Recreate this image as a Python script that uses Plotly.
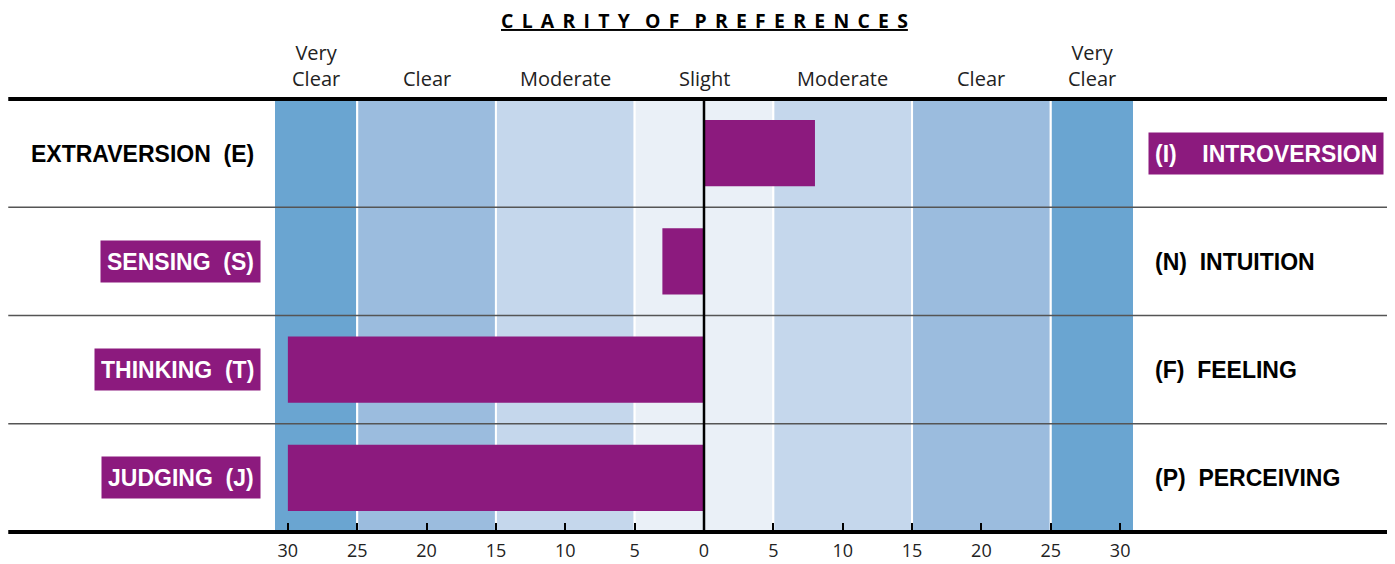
import plotly.graph_objects as go

# scale rows, top to bottom
left_labels = ["EXTRAVERSION  (E)", "SENSING  (S)", "THINKING  (T)", "JUDGING  (J)"]
right_labels = ["(I)    INTROVERSION", "(N)  INTUITION", "(F)  FEELING", "(P)  PERCEIVING"]
scores = [8, -3, -30, -30]   # negative = left pole, positive = right pole

# clarity bands
band_edges = [-31, -25, -15, -5, 5, 15, 25, 31]
band_colors = ["#6aa5d1", "#9bbcde", "#c5d7ec", "#eaf0f7", "#c5d7ec", "#9bbcde", "#6aa5d1"]
band_names = ["Very<br>Clear", "Clear", "Moderate", "Slight", "Moderate", "Clear", "Very<br>Clear"]
band_centers = [-28, -20, -10, 0, 10, 20, 28]

tick_vals = [-30, -25, -20, -15, -10, -5, 0, 5, 10, 15, 20, 25, 30]
tick_text = [str(abs(v)) for v in tick_vals]

PURPLE = "#8c1a7e"
NB = "\u00a0"
rows = list(range(len(scores)))


def spaced(s):
    # letter-spaced title text
    words = [(NB + "\u2006").join(w) for w in s.split(" ")]
    return (NB * 3).join(words)


fig = go.Figure()
fig.add_trace(go.Bar(
    x=scores, y=rows, orientation="h", base=0, width=0.61,
    marker=dict(color=PURPLE, line=dict(width=0)),
    hoverinfo="skip", showlegend=False,
))

# background bands
for i, col in enumerate(band_colors):
    fig.add_shape(type="rect", xref="x", yref="paper",
                  x0=band_edges[i], x1=band_edges[i + 1], y0=0, y1=1,
                  fillcolor=col, line=dict(color="white", width=2), layer="below")
    fig.add_annotation(x=band_centers[i], y=1, xref="x", yref="paper",
                       text=band_names[i], showarrow=False, yanchor="bottom",
                       yshift=5, font=dict(family="Open Sans", size=20, color="#222"))

# row separators
for r in rows[1:]:
    fig.add_shape(type="line", xref="paper", yref="y", x0=-0.309, x1=1.298,
                  y0=r - 0.5, y1=r - 0.5, line=dict(color="#555", width=1.5))

# thick top/bottom rules
for yy in [0, 1]:
    fig.add_shape(type="line", xref="paper", yref="paper", x0=-0.309, x1=1.298,
                  y0=yy, y1=yy, line=dict(color="black", width=4))

# center line
fig.add_shape(type="line", xref="x", yref="paper", x0=0, x1=0, y0=0, y1=1,
              line=dict(color="black", width=2.5))

# pole labels
for r in rows:
    left_on = scores[r] < 0
    right_on = scores[r] > 0
    fig.add_annotation(x=-0.0151, y=r, xref="paper", yref="y", xanchor="right",
                       yanchor="middle",
                       text="<b>" + left_labels[r].replace(" ", NB) + "</b>",
                       showarrow=False, height=29, borderpad=6,
                       bgcolor=PURPLE if left_on else "rgba(0,0,0,0)",
                       font=dict(family="Liberation Sans", size=23,
                                 color="white" if left_on else "black"))
    fig.add_annotation(x=1.0163, y=r, xref="paper", yref="y", xanchor="left",
                       yanchor="middle",
                       text="<b>" + right_labels[r].replace(" ", NB) + "</b>",
                       showarrow=False, height=29, borderpad=6,
                       bgcolor=PURPLE if right_on else "rgba(0,0,0,0)",
                       font=dict(family="Liberation Sans", size=23,
                                 color="white" if right_on else "black"))

# title (underlined)
fig.add_annotation(x=0, y=1.182, xref="x", yref="paper", showarrow=False,
                   xanchor="center", yanchor="middle",
                   text="<b>" + spaced("CLARITY OF PREFERENCES") + "</b>",
                   font=dict(family="Open Sans", size=19.4, color="black",
                             lineposition="under"))

# page body has an 8px margin, so the figure is 8px smaller and margins shifted
fig.update_layout(
    width=1387, height=556,
    margin=dict(l=266, r=261, t=91, b=32),
    plot_bgcolor="white", paper_bgcolor="white",
    xaxis=dict(range=[-31, 31], tickvals=tick_vals, ticktext=tick_text,
               ticks="inside", ticklen=9, tickwidth=1.5, tickcolor="black",
               ticklabelstandoff=6, automargin=False,
               showgrid=False, zeroline=False, showline=False,
               tickfont=dict(family="Open Sans", size=18, color="#222")),
    yaxis=dict(range=[3.5, -0.5], visible=False, showgrid=False, zeroline=False,
               automargin=False),
)

fig.write_html("out.html")
